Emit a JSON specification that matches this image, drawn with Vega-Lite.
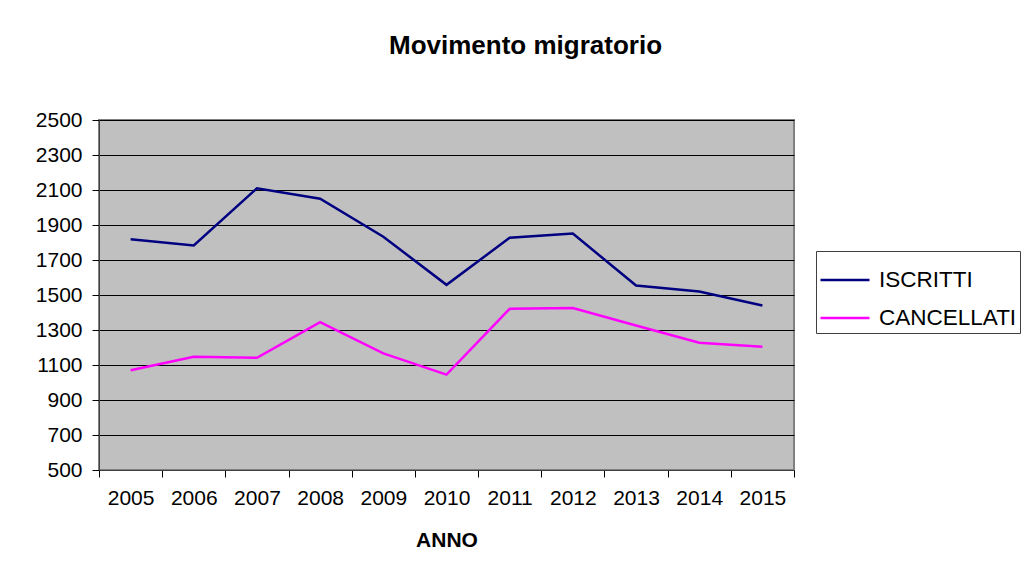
{
  "$schema": "https://vega.github.io/schema/vega-lite/v6.json",
  "width": 695,
  "height": 350,
  "autosize": {"type": "none"},
  "padding": {"left": 99, "top": 120, "right": 232, "bottom": 110},
  "background": "white",
  "title": {
    "text": "Movimento migratorio",
    "font": "Liberation Sans",
    "fontSize": 26,
    "fontWeight": "bold",
    "color": "black",
    "anchor": "middle",
    "dx": 79,
    "baseline": "alphabetic",
    "offset": 29
  },
  "data": {
    "values": [
      {"anno": "2005", "serie": "ISCRITTI", "valore": 1819},
      {"anno": "2006", "serie": "ISCRITTI", "valore": 1783},
      {"anno": "2007", "serie": "ISCRITTI", "valore": 2110},
      {"anno": "2008", "serie": "ISCRITTI", "valore": 2050},
      {"anno": "2009", "serie": "ISCRITTI", "valore": 1833},
      {"anno": "2010", "serie": "ISCRITTI", "valore": 1558},
      {"anno": "2011", "serie": "ISCRITTI", "valore": 1827},
      {"anno": "2012", "serie": "ISCRITTI", "valore": 1851},
      {"anno": "2013", "serie": "ISCRITTI", "valore": 1554},
      {"anno": "2014", "serie": "ISCRITTI", "valore": 1520},
      {"anno": "2015", "serie": "ISCRITTI", "valore": 1440},
      {"anno": "2005", "serie": "CANCELLATI", "valore": 1070},
      {"anno": "2006", "serie": "CANCELLATI", "valore": 1147},
      {"anno": "2007", "serie": "CANCELLATI", "valore": 1141},
      {"anno": "2008", "serie": "CANCELLATI", "valore": 1345},
      {"anno": "2009", "serie": "CANCELLATI", "valore": 1166},
      {"anno": "2010", "serie": "CANCELLATI", "valore": 1045},
      {"anno": "2011", "serie": "CANCELLATI", "valore": 1421},
      {"anno": "2012", "serie": "CANCELLATI", "valore": 1425},
      {"anno": "2013", "serie": "CANCELLATI", "valore": 1326},
      {"anno": "2014", "serie": "CANCELLATI", "valore": 1227},
      {"anno": "2015", "serie": "CANCELLATI", "valore": 1204}
    ]
  },
  "mark": {"type": "line", "strokeWidth": 2.5},
  "encoding": {
    "x": {
      "field": "anno",
      "type": "ordinal",
      "bandPosition": 0.5,
      "scale": {"type": "band", "paddingInner": 0, "paddingOuter": 0},
      "axis": {
        "title": "ANNO",
        "labelAngle": 0,
        "tickBand": "extent",
        "grid": false,
        "titlePadding": 21
      }
    },
    "y": {
      "field": "valore",
      "type": "quantitative",
      "scale": {"domain": [500, 2500], "nice": false, "zero": false},
      "axis": {
        "title": null,
        "format": "d",
        "values": [500, 700, 900, 1100, 1300, 1500, 1700, 1900, 2100, 2300, 2500],
        "grid": true
      }
    },
    "color": {
      "field": "serie",
      "type": "nominal",
      "sort": ["ISCRITTI", "CANCELLATI"],
      "scale": {"domain": ["ISCRITTI", "CANCELLATI"], "range": ["#000080", "#FF00FF"]},
      "legend": {
        "title": null,
        "orient": "none",
        "legendX": 717,
        "legendY": 131
      }
    }
  },
  "config": {
    "view": {"fill": "#C0C0C0", "stroke": "#808080", "strokeWidth": 2},
    "axis": {
      "labelFont": "Liberation Sans",
      "labelFontSize": 21,
      "labelColor": "black",
      "titleFont": "Liberation Sans",
      "titleFontSize": 21,
      "titleFontWeight": "bold",
      "titleColor": "black",
      "domainColor": "#404040",
      "domainWidth": 1,
      "tickColor": "black",
      "tickSize": 7,
      "tickWidth": 1,
      "gridColor": "black",
      "gridWidth": 1,
      "gridOpacity": 1,
      "labelPadding": 10
    },
    "legend": {
      "strokeColor": "#404040",
      "fillColor": "white",
      "padding": 3,
      "rowPadding": -6,
      "symbolType": "stroke",
      "symbolSize": 2400,
      "symbolStrokeWidth": 2.5,
      "labelFont": "Liberation Sans",
      "labelFontSize": 22.5,
      "labelColor": "black",
      "labelOffset": 8
    }
  }
}
